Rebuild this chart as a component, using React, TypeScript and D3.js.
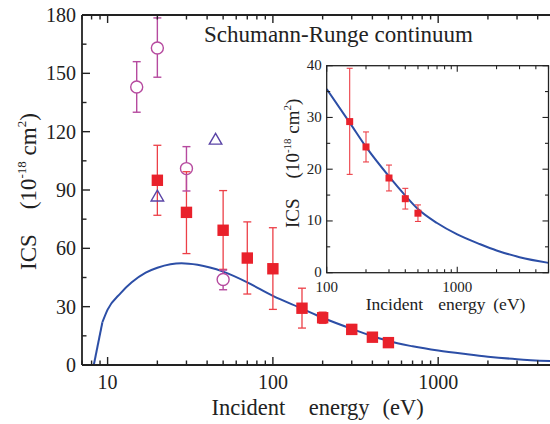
import React from 'react';
import * as d3 from 'd3';

// Theory curve
const curveEnergy = [8.25, 9.3, 10, 12, 14, 17, 20, 24, 28, 35, 50, 70, 100, 150, 200, 300, 400, 500, 700, 1000, 1500, 2000, 3000, 5000];
const curveICS = [0, 22, 28.5, 37, 42.5, 47.5, 50, 51.8, 52.3, 51.5, 48, 42.5, 35.5, 29, 24.3, 18.6, 14.9, 12.3, 9.6, 7.4, 5.5, 4.3, 3.0, 1.9];

// Red filled squares (present work)
const redEnergy = [20, 30, 50, 70, 100, 150, 200, 300, 400, 500];
const redICS = [95, 78.5, 69.3, 55, 49.5, 29.2, 24.3, 18.3, 14.3, 11.5];
const redLo = [77, 57.3, 49.2, 36.5, 28.6, 19, 21.4, 15.8, 12.3, 9.9];
const redHi = [113, 99.4, 89.7, 73.6, 70.6, 39.5, 27.2, 20.8, 16.3, 13.1];

// Magenta open circles
const circEnergy = [15, 20, 30, 50];
const circICS = [143, 163, 101, 44];
const circLo = [130, 148, 89.5, 38.7];
const circHi = [156, 178.5, 112.3, 48.8];

// Purple open triangles
const triEnergy = [20, 45];
const triICS = [86.5, 115.7];

// Tick labels
const mainYTicks = [0, 30, 60, 90, 120, 150, 180];
const mainYMinor = [15, 45, 75, 105, 135, 165];
const mainXMajor = [10, 100, 1000];
const insetYTicks = [0, 10, 20, 30, 40];
const insetYMinor = [5, 15, 25, 35];
const insetXMajor = [100, 1000];

const FONT = 'Liberation Serif, DejaVu Serif, serif';
const RED = '#e9212b';
const RED_ERR = '#ec3f47';
const MAG = '#b64a9f';
const PURP = '#5a44a6';
const BLUE = '#2c4ea6';
const INK = '#222';

function logMinor(domain: [number, number]) {
  const out: number[] = [];
  for (let d = 1; d <= 10000; d *= 10) {
    for (let k = 2; k <= 9; k++) {
      const v = k * d;
      if (v >= domain[0] && v <= domain[1]) out.push(v);
    }
  }
  return out;
}

export default function App() {
  const W = 550, H = 424;
  const x = d3.scaleLog().domain([7, 5000]).range([82, 553.7]);
  const y = d3.scaleLinear().domain([0, 180]).range([365, 15]);
  const xi = d3.scaleLog().domain([100, 5000]).range([326.7, 548.5]);
  const yi = d3.scaleLinear().domain([0, 40]).range([272.7, 65.7]);

  const pts: [number, number][] = curveEnergy.map((e, i) => [e, curveICS[i]]);
  const lineLin = d3.line<[number, number]>().x(d => x(d[0])).y(d => y(d[1]));
  const lineMain = d3.line<[number, number]>().x(d => x(d[0])).y(d => y(d[1])).curve(d3.curveMonotoneX);
  const lineInset = d3.line<[number, number]>().x(d => xi(d[0])).y(d => yi(d[1])).curve(d3.curveMonotoneX);
  const insetPts = pts.filter(p => p[0] >= 100);

  const mX0 = x.range()[0], mX1 = x.range()[1], mY0 = y.range()[0], mY1 = y.range()[1];
  const iX0 = xi.range()[0], iX1 = xi.range()[1], iY0 = yi.range()[0], iY1 = yi.range()[1];

  const mainMinorX = logMinor([7, 5000]);
  const insetMinorX = logMinor([100, 5000]);

  const triPath = (cx: number, cy: number, s: number) => {
    const h = s * 0.87;
    return `M${cx},${cy - h * 0.62} L${cx + s / 2},${cy + h * 0.38} L${cx - s / 2},${cy + h * 0.38} Z`;
  };

  const insetIdx = redEnergy.map((e, i) => i).filter(i => redEnergy[i] >= 150);
  const tStyle = { fontFamily: FONT };

  return (
    <svg width={W} height={H} style={{ position: 'absolute', left: 0, top: 0, background: '#fff', fontFamily: FONT }}>
      <defs>
        <clipPath id="mainClip"><rect x={mX0} y={mY1 - 20} width={mX1 - mX0} height={mY0 - mY1 + 20} /></clipPath>
        <clipPath id="insetClip"><rect x={iX0} y={iY1} width={iX1 - iX0} height={iY0 - iY1} /></clipPath>
      </defs>
      <rect x={0} y={0} width={W} height={H} fill="#fff" />

      {/* ===== Main panel ===== */}
      <g clipPath="url(#mainClip)" fill="none" stroke={BLUE} strokeWidth={2}>
        <path d={lineLin(pts.slice(0, 2)) || ''} />
        <path d={lineMain(pts.slice(1)) || ''} />
      </g>

      {/* red error bars */}
      {redEnergy.map((e, i) => (
        <g key={'re' + i} stroke={RED_ERR} strokeWidth={1.3}>
          <line x1={x(e)} x2={x(e)} y1={y(redLo[i])} y2={y(redHi[i])} />
          <line x1={x(e) - 4} x2={x(e) + 4} y1={y(redLo[i])} y2={y(redLo[i])} />
          <line x1={x(e) - 4} x2={x(e) + 4} y1={y(redHi[i])} y2={y(redHi[i])} />
        </g>
      ))}
      {/* circles with error bars */}
      {circEnergy.map((e, i) => (
        <g key={'c' + i} stroke={MAG} strokeWidth={1.4} fill="none">
          <line x1={x(e)} x2={x(e)} y1={y(circLo[i])} y2={y(circICS[i]) + 6} />
          <line x1={x(e)} x2={x(e)} y1={y(circHi[i])} y2={y(circICS[i]) - 6} />
          <line x1={x(e) - 4} x2={x(e) + 4} y1={y(circLo[i])} y2={y(circLo[i])} />
          <line x1={x(e) - 4} x2={x(e) + 4} y1={y(circHi[i])} y2={y(circHi[i])} />
          <circle cx={x(e)} cy={y(circICS[i])} r={6} />
        </g>
      ))}
      {/* triangles */}
      {triEnergy.map((e, i) => (
        <path key={'t' + i} d={triPath(x(e), y(triICS[i]), 12.5)} fill="none" stroke={PURP} strokeWidth={1.4} />
      ))}
      {/* red squares */}
      {redEnergy.map((e, i) => (
        <rect key={'rs' + i} x={x(e) - 5.7} y={y(redICS[i]) - 5.7} width={11.4} height={11.4} fill={RED} />
      ))}

      {/* main axes */}
      <g stroke={INK} strokeWidth={1.8} fill="none">
        <line x1={mX0} x2={mX1} y1={mY0} y2={mY0} />
        <line x1={mX0} x2={mX1} y1={mY1} y2={mY1} />
        <line x1={mX0} x2={mX0} y1={mY1} y2={mY0} />
        <line x1={mX1} x2={mX1} y1={mY1} y2={mY0} />
      </g>
      <g stroke={INK} strokeWidth={1.4}>
        {mainXMajor.map(v => (
          <g key={'mxM' + v}>
            <line x1={x(v)} x2={x(v)} y1={mY0} y2={mY0 - 8} />
            <line x1={x(v)} x2={x(v)} y1={mY1} y2={mY1 + 8} />
          </g>
        ))}
        {mainMinorX.map(v => (
          <g key={'mxm' + v}>
            <line x1={x(v)} x2={x(v)} y1={mY0} y2={mY0 - 4.5} />
            <line x1={x(v)} x2={x(v)} y1={mY1} y2={mY1 + 4.5} />
          </g>
        ))}
        {mainYTicks.map(v => (
          <line key={'myM' + v} x1={mX0} x2={mX0 + 8} y1={y(v)} y2={y(v)} />
        ))}
        {mainYMinor.map(v => (
          <line key={'mym' + v} x1={mX0} x2={mX0 + 4.5} y1={y(v)} y2={y(v)} />
        ))}
      </g>
      <g fontSize={20} fill={INK} style={tStyle}>
        {mainYTicks.map(v => (
          <text key={'myl' + v} x={mX0 - 6} y={y(v) + 7} textAnchor="end" style={tStyle}>{v}</text>
        ))}
        {mainXMajor.map(v => (
          <text key={'mxl' + v} x={x(v)} y={389} textAnchor="middle" style={tStyle}>{v}</text>
        ))}
      </g>
      <text fontSize={22.5} fill={INK} y={415} style={tStyle}>
        <tspan x={211.6}>Incident</tspan>
        <tspan x={308.8}>energy</tspan>
        <tspan x={382.5}>(eV)</tspan>
      </text>
      <text fontSize={23} fill={INK} transform="translate(35.5,270) rotate(-90)" style={tStyle}>
        <tspan>ICS</tspan>
        <tspan dx={25}>(10</tspan>
        <tspan dy={-10} fontSize={13}>-18</tspan>
        <tspan dy={10}> cm</tspan>
        <tspan dy={-10} fontSize={13}>2</tspan>
        <tspan dy={10}>)</tspan>
      </text>
      <text x={204} y={42} fontSize={23} fill={INK} style={tStyle}>Schumann-Runge continuum</text>

      {/* ===== Inset ===== */}
      <rect x={iX0} y={iY1} width={iX1 - iX0} height={iY0 - iY1} fill="#fff" />
      <path d={lineInset(insetPts) || ''} fill="none" stroke={BLUE} strokeWidth={2} clipPath="url(#insetClip)" />
      {insetIdx.map(i => {
        const e = redEnergy[i];
        return (
          <g key={'ie' + i} stroke={RED_ERR} strokeWidth={1.1}>
            <line x1={xi(e)} x2={xi(e)} y1={yi(redLo[i])} y2={yi(redHi[i])} />
            <line x1={xi(e) - 3} x2={xi(e) + 3} y1={yi(redLo[i])} y2={yi(redLo[i])} />
            <line x1={xi(e) - 3} x2={xi(e) + 3} y1={yi(redHi[i])} y2={yi(redHi[i])} />
          </g>
        );
      })}
      {insetIdx.map(i => (
        <rect key={'is' + i} x={xi(redEnergy[i]) - 3.5} y={yi(redICS[i]) - 3.5} width={7} height={7} fill={RED} />
      ))}
      <g stroke={INK} strokeWidth={1.3} fill="none">
        <rect x={iX0} y={iY1} width={iX1 - iX0} height={iY0 - iY1} />
      </g>
      <g stroke={INK} strokeWidth={1.1}>
        {insetXMajor.map(v => (
          <g key={'ixM' + v}>
            <line x1={xi(v)} x2={xi(v)} y1={iY0} y2={iY0 - 6} />
            <line x1={xi(v)} x2={xi(v)} y1={iY1} y2={iY1 + 6} />
          </g>
        ))}
        {insetMinorX.map(v => (
          <g key={'ixm' + v}>
            <line x1={xi(v)} x2={xi(v)} y1={iY0} y2={iY0 - 3.5} />
            <line x1={xi(v)} x2={xi(v)} y1={iY1} y2={iY1 + 3.5} />
          </g>
        ))}
        {insetYTicks.map(v => (
          <g key={'iyM' + v}>
            <line x1={iX0} x2={iX0 + 6} y1={yi(v)} y2={yi(v)} />
            <line x1={iX1} x2={iX1 - 6} y1={yi(v)} y2={yi(v)} />
          </g>
        ))}
        {insetYMinor.map(v => (
          <g key={'iym' + v}>
            <line x1={iX0} x2={iX0 + 3.5} y1={yi(v)} y2={yi(v)} />
            <line x1={iX1} x2={iX1 - 3.5} y1={yi(v)} y2={yi(v)} />
          </g>
        ))}
      </g>
      <g fontSize={15} fill={INK}>
        {insetYTicks.map(v => (
          <text key={'iyl' + v} x={iX0 - 5} y={yi(v) + 4.5} textAnchor="end" style={tStyle}>{v}</text>
        ))}
        {insetXMajor.map(v => (
          <text key={'ixl' + v} x={xi(v)} y={292} textAnchor="middle" style={tStyle}>{v}</text>
        ))}
      </g>
      <text fontSize={17.5} fill={INK} y={309.5} style={tStyle}>
        <tspan x={365.7}>Incident</tspan>
        <tspan x={438.3}>energy</tspan>
        <tspan x={493.3}>(eV)</tspan>
      </text>
      <text fontSize={19} fill={INK} transform="translate(298.5,228) rotate(-90)" style={tStyle}>
        <tspan>ICS</tspan>
        <tspan dx={20}>(10</tspan>
        <tspan dy={-8} fontSize={11}>-18</tspan>
        <tspan dy={8}> cm</tspan>
        <tspan dy={-8} fontSize={11}>2</tspan>
        <tspan dy={8}>)</tspan>
      </text>
    </svg>
  );
}
